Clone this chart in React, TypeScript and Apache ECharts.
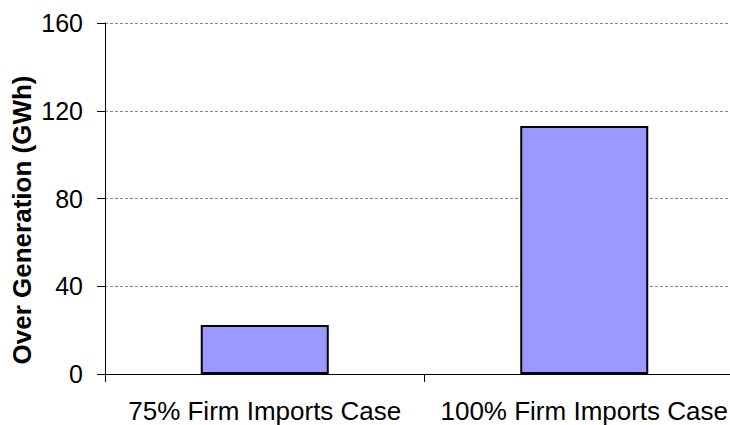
import React, { useEffect, useRef } from "react";
import * as echarts from "echarts";

const categories = ["75% Firm Imports Case", "100% Firm Imports Case"];
const overGeneration = [22.3, 113];
const yTicks = { min: 0, max: 160, interval: 40 };
const yTitle = "Over Generation (GWh)";

export default function App() {
  const ref = useRef<HTMLDivElement>(null);
  useEffect(() => {
    document.body.style.margin = "0";
    const chart = echarts.init(ref.current!, undefined, { renderer: "svg" });
    chart.setOption({
      animation: false,
      backgroundColor: "#ffffff",
      grid: { left: 105, top: 23, width: 639, height: 351, containLabel: false },
      graphic: [
        {
          type: "text",
          x: 22,
          y: 220,
          rotation: Math.PI / 2,
          style: {
            text: yTitle,
            font: "bold 26px 'Liberation Sans', Arial, sans-serif",
            fill: "#000",
            align: "center",
            verticalAlign: "middle",
          },
        },
      ],
      xAxis: {
        type: "category",
        data: categories,
        boundaryGap: true,
        axisLine: { lineStyle: { color: "#000", width: 1 } },
        axisTick: { show: true, length: 8, alignWithLabel: false, lineStyle: { color: "#000" } },
        axisLabel: {
          margin: 24,
          fontSize: 26,
          fontFamily: "'Liberation Sans', Arial, sans-serif",
          color: "#000",
          interval: 0,
        },
      },
      yAxis: {
        type: "value",
        min: yTicks.min,
        max: yTicks.max,
        interval: yTicks.interval,
        axisLine: { show: true, lineStyle: { color: "#000", width: 1 } },
        axisTick: { show: true, length: 8, lineStyle: { color: "#000" } },
        axisLabel: {
          margin: 22,
          fontSize: 25,
          fontFamily: "'Liberation Sans', Arial, sans-serif",
          color: "#000",
        },
        splitLine: { show: true, lineStyle: { color: "#888", type: [3, 2], width: 1 } },
      },
      series: [
        {
          type: "bar",
          data: overGeneration,
          barWidth: 128,
          itemStyle: { color: "#9999ff", borderColor: "#000", borderWidth: 2 },
        },
      ],
    });
    return () => chart.dispose();
  }, []);
  return (
    <div style={{ width: 730, height: 425, overflow: "hidden", position: "relative" }}>
      <div ref={ref} style={{ width: 760, height: 425 }} />
    </div>
  );
}
